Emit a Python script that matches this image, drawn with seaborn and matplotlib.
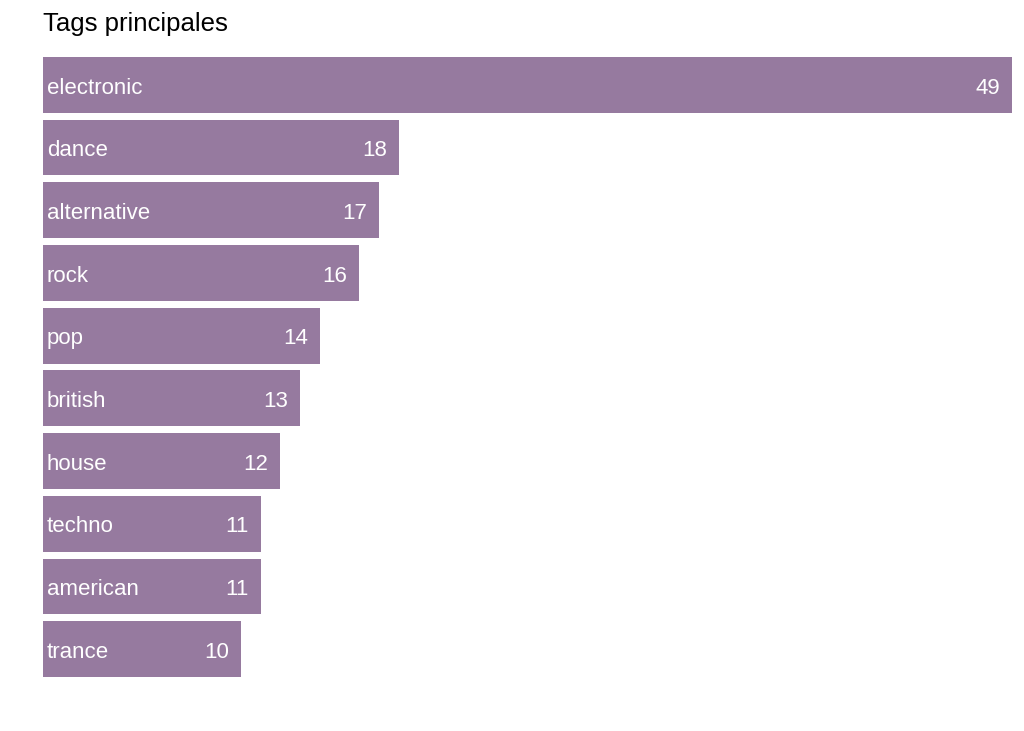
import matplotlib
matplotlib.use('Agg')
import matplotlib.pyplot as plt
import seaborn as sns
import pandas as pd

tags = ["electronic", "dance", "alternative", "rock", "pop",
        "british", "house", "techno", "american", "trance"]
counts = [49, 18, 17, 16, 14, 13, 12, 11, 11, 10]

df = pd.DataFrame({"tag": tags, "n": counts})

sns.set_style("white")
plt.rcParams['font.family'] = ['Liberation Sans', 'DejaVu Sans']

fig = plt.figure(figsize=(10.24, 7.31), dpi=100)
ax = fig.add_axes([43 / 1024, 1 - 677 / 731, 969 / 1024, 620 / 731])

sns.barplot(data=df, x="n", y="tag", color="#967a9f", saturation=1,
            width=0.89, linewidth=0, ax=ax)
ax.set_xlim(0, max(counts))
ax.set_ylim(len(tags) - 1 + 0.445, -0.445)

for i, (t, v) in enumerate(zip(tags, counts)):
    ax.text(0.2, i + 0.05, t, color="white", fontsize=16, va="center", ha="left")
    ax.text(v - 0.6, i + 0.05, str(v), color="white", fontsize=16, va="center", ha="right")

ax.set_xlabel("")
ax.set_ylabel("")
ax.set_xticks([])
ax.set_yticks([])
sns.despine(ax=ax, left=True, bottom=True)

fig.text(43 / 1024, 1 - 24 / 731, "Tags principales", fontsize=18.5,
         color="black", va="center", ha="left")

plt.savefig("out.png", dpi=100)
plt.close()
